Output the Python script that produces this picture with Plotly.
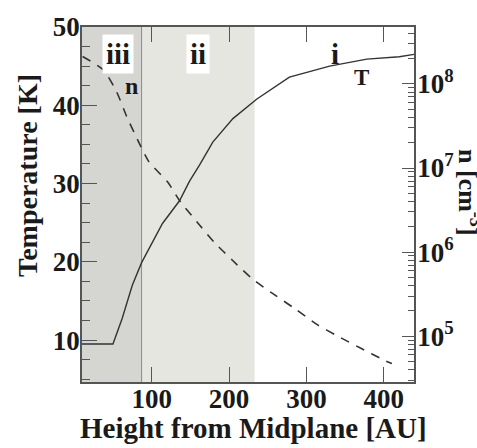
import plotly.graph_objects as go

# ---- data ----
height_T = [10, 50, 62, 75, 87, 114, 136, 149, 162, 179, 205, 236, 278, 330, 378, 420, 439]
temp_T = [9.5, 9.5, 12.8, 17.0, 19.9, 24.9, 27.8, 30.3, 32.4, 35.3, 38.3, 40.8, 43.6, 45.0, 45.9, 46.2, 46.5]

height_n = [10.8, 37.9, 54.7, 67.7, 81.9, 96.1, 120.7, 136.2, 162.1, 181.5, 204.7, 230.6,
            255.2, 284.9, 313.4, 340.5, 371.6, 401.3, 410.4]
dens_n = [2.12e8, 1.46e8, 8.07e7, 4.12e7, 2.16e7, 1.20e7, 6.81e6, 4.08e6, 2.09e6, 1.29e6,
          7.94e5, 4.76e5, 3.27e5, 2.13e5, 1.38e5, 1.00e5, 7.08e4, 5.13e4, 4.73e4]

region_bounds = [10, 87, 233]      # iii: 10-87, ii: 87-233, i: >233
region_labels = ["iii", "ii", "i"]
region_label_x = [56, 159.5, 336.7]

x_ticks = [100, 200, 300, 400]
T_ticks = [10, 20, 30, 40, 50]
n_ticks = [1e5, 1e6, 1e7, 1e8]
n_ticktext = ["10<sup>5</sup>", "10<sup>6</sup>", "10<sup>7</sup>", "10<sup>8</sup>"]
n_minor = [k * 10 ** e for e in range(4, 9) for k in range(2, 10)]

FONT = "Liberation Serif"
TXT = "#1a1a1a"
AX = "#555555"

fig = go.Figure()
fig.add_trace(go.Scatter(x=height_T, y=temp_T, mode="lines",
                         line=dict(color="#333333", width=1.4), showlegend=False))
fig.add_trace(go.Scatter(x=height_n, y=dens_n, mode="lines", yaxis="y2",
                         line=dict(color="#333333", width=1.6, dash="9px,8px", shape="spline",
                                   smoothing=0.6), showlegend=False))

# shaded regions
fig.add_shape(type="rect", xref="x", yref="paper", x0=region_bounds[0], x1=region_bounds[1],
              y0=0, y1=1, fillcolor="#d5d5d2", line_width=0, layer="below")
fig.add_shape(type="rect", xref="x", yref="paper", x0=region_bounds[1], x1=region_bounds[2],
              y0=0, y1=1, fillcolor="#e6e6e1", line_width=0, layer="below")
fig.add_shape(type="line", xref="x", yref="paper", x0=region_bounds[1], x1=region_bounds[1],
              y0=0, y1=1, line=dict(color="#8a8a8a", width=1), layer="below")

lab_font = dict(family=FONT, size=29, color=TXT, weight="bold")
for lab, lx in zip(region_labels, region_label_x):
    fig.add_annotation(x=lx, y=46.6, xref="x", yref="y", text=lab, showarrow=False,
                       xanchor="center", yanchor="middle",
                       font=lab_font, bgcolor="white" if lab != "i" else None, borderpad=3)
fig.add_annotation(x=371.6, y=43.6, xref="x", yref="y", text="T", showarrow=False,
                   xanchor="center", yanchor="middle",
                   font=dict(family=FONT, size=23, color=TXT, weight="bold"))
fig.add_annotation(x=74.1, y=42.5, xref="x", yref="y", text="n", showarrow=False,
                   xanchor="center", yanchor="middle",
                   font=dict(family=FONT, size=24, color=TXT, weight="bold"))

# axis titles
fig.add_annotation(x=0.5166, y=-0.13, xref="paper", yref="paper", text="Height from Midplane [AU]",
                   xanchor="center", yanchor="middle",
                   showarrow=False, font=dict(family=FONT, size=29, color=TXT, weight="bold"))
fig.add_annotation(x=-0.166, y=0.583, xref="paper", yref="paper", text="Temperature [K]",
                   xanchor="center", yanchor="middle",
                   textangle=-90, showarrow=False, font=dict(family=FONT, size=28, color=TXT, weight="bold"))
fig.add_annotation(x=1.169, y=0.535, xref="paper", yref="paper", text="n [cm<sup>-3</sup>]",
                   xanchor="center", yanchor="middle",
                   textangle=90, showarrow=False, font=dict(family=FONT, size=26, color=TXT, weight="bold"))

tickfont = dict(family=FONT, size=27, color=TXT, weight="bold")
fig.update_layout(
    width=477, height=448,
    margin=dict(l=82, r=63, t=20, b=66),
    paper_bgcolor="white", plot_bgcolor="white",
    xaxis=dict(range=[10, 439], tickvals=x_ticks, ticks="inside", ticklen=15, tickwidth=1.4,
               tickcolor=AX, showline=True, linecolor=AX, linewidth=1.5, mirror="ticks",
               showgrid=False, zeroline=False, tickfont=tickfont, ticklabelstandoff=-8),
    yaxis=dict(range=[4.65, 50], tickvals=T_ticks, ticks="inside", ticklen=15, tickwidth=1.4,
               tickcolor=AX, showline=True, linecolor=AX, linewidth=1.5, mirror=True,
               showgrid=False, zeroline=False, tickfont=tickfont, ticklabelstandoff=-5,
               minor=dict(dtick=2.5, tick0=0, ticks="inside", ticklen=8, tickwidth=1.2,
                          tickcolor=AX, showgrid=False)),
    yaxis2=dict(type="log", range=[4.455, 8.677], overlaying="y", side="right",
                tickvals=n_ticks, ticktext=n_ticktext, ticks="inside", ticklen=12, tickwidth=1.4,
                tickcolor=AX, showline=True, linecolor=AX, linewidth=1.5,
                showgrid=False, zeroline=False, tickfont=tickfont, ticklabelstandoff=-4,
                minor=dict(tickvals=n_minor, ticks="inside", ticklen=6, tickwidth=1.1,
                           tickcolor=AX, showgrid=False)),
)

fig.write_html("out.html")
